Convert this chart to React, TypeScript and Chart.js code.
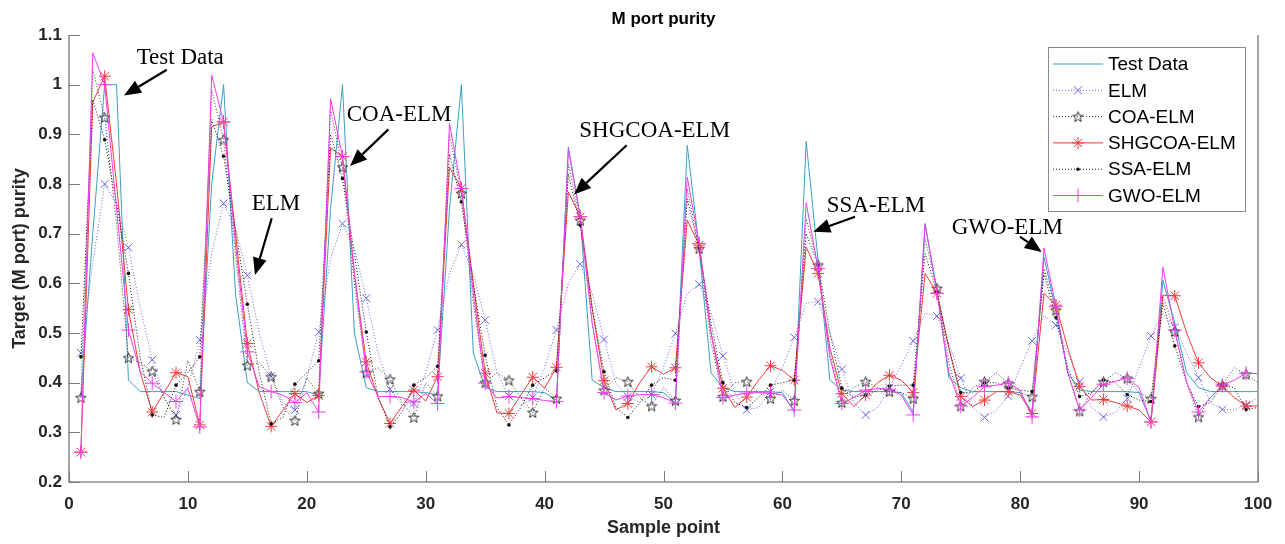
import React, { useEffect, useRef } from 'react';
import { Chart, registerables } from 'chart.js';

Chart.register(...registerables);

// ---------------- data ----------------
const chartTitle = 'M port purity';
const xTicks = [0, 10, 20, 30, 40, 50, 60, 70, 80, 90, 100];
const yTicks = [0.2, 0.3, 0.4, 0.5, 0.6, 0.7, 0.8, 0.9, 1.0, 1.1];

const seriesNames = ['Test Data', 'ELM', 'COA-ELM', 'SHGCOA-ELM', 'SSA-ELM', 'GWO-ELM'];

const testData = [
  0.37, 0.70, 1.00, 1.00, 0.405, 0.382, 0.382, 0.382, 0.382, 0.375,
  0.368, 0.80, 1.00, 0.58, 0.40, 0.382, 0.382, 0.382, 0.382, 0.382,
  0.375, 0.75, 1.00, 0.50, 0.39, 0.382, 0.382, 0.382, 0.382, 0.38,
  0.375, 0.75, 1.00, 0.46, 0.39, 0.382, 0.382, 0.382, 0.382, 0.38,
  0.365, 0.874, 0.734, 0.405, 0.39, 0.382, 0.382, 0.382, 0.382, 0.38,
  0.36, 0.878, 0.67, 0.42, 0.39, 0.382, 0.382, 0.382, 0.382, 0.38,
  0.34, 0.886, 0.647, 0.405, 0.385, 0.382, 0.382, 0.382, 0.382, 0.38,
  0.34, 0.72, 0.586, 0.41, 0.39, 0.382, 0.382, 0.382, 0.382, 0.38,
  0.34, 0.653, 0.546, 0.42, 0.385, 0.382, 0.382, 0.382, 0.382, 0.38,
  0.321, 0.606, 0.52, 0.42, 0.39, 0.382, 0.382, 0.382, 0.382, 0.382,
];

const elm = [
  0.46, 0.64, 0.80, 0.76, 0.672, 0.55, 0.446, 0.37, 0.335, 0.39,
  0.486, 0.66, 0.761, 0.71, 0.616, 0.50, 0.413, 0.36, 0.345, 0.41,
  0.502, 0.65, 0.72, 0.67, 0.57, 0.46, 0.387, 0.355, 0.358, 0.42,
  0.506, 0.62, 0.678, 0.62, 0.526, 0.42, 0.373, 0.355, 0.37, 0.43,
  0.506, 0.60, 0.639, 0.58, 0.487, 0.40, 0.372, 0.36, 0.376, 0.43,
  0.499, 0.58, 0.598, 0.54, 0.454, 0.38, 0.345, 0.35, 0.382, 0.43,
  0.491, 0.56, 0.563, 0.50, 0.427, 0.36, 0.335, 0.35, 0.39, 0.435,
  0.484, 0.54, 0.534, 0.48, 0.409, 0.35, 0.33, 0.345, 0.373, 0.43,
  0.484, 0.535, 0.516, 0.46, 0.402, 0.35, 0.331, 0.34, 0.368, 0.43,
  0.494, 0.54, 0.512, 0.46, 0.41, 0.36, 0.346, 0.345, 0.355, 0.37,
];

const coaElm = [
  0.37, 1.03, 0.934, 0.72, 0.45, 0.44, 0.423, 0.37, 0.326, 0.445,
  0.382, 0.99, 0.889, 0.66, 0.435, 0.44, 0.412, 0.35, 0.324, 0.41,
  0.378, 0.95, 0.834, 0.60, 0.42, 0.43, 0.407, 0.36, 0.33, 0.40,
  0.373, 0.90, 0.781, 0.56, 0.40, 0.42, 0.405, 0.37, 0.34, 0.39,
  0.368, 0.84, 0.727, 0.52, 0.385, 0.41, 0.402, 0.37, 0.353, 0.39,
  0.364, 0.79, 0.67, 0.48, 0.372, 0.40, 0.402, 0.38, 0.368, 0.385,
  0.364, 0.73, 0.637, 0.46, 0.36, 0.39, 0.402, 0.39, 0.382, 0.38,
  0.368, 0.69, 0.59, 0.44, 0.353, 0.39, 0.402, 0.42, 0.399, 0.38,
  0.372, 0.63, 0.546, 0.42, 0.343, 0.38, 0.402, 0.42, 0.409, 0.38,
  0.368, 0.575, 0.503, 0.40, 0.331, 0.37, 0.395, 0.43, 0.417, 0.40,
];

const shgcoaElm = [
  0.26, 0.965, 1.017, 0.80, 0.547, 0.42, 0.341, 0.38, 0.42, 0.412,
  0.315, 0.915, 0.925, 0.70, 0.479, 0.38, 0.312, 0.345, 0.378, 0.36,
  0.374, 0.873, 0.855, 0.62, 0.442, 0.37, 0.318, 0.352, 0.385, 0.363,
  0.412, 0.834, 0.791, 0.60, 0.419, 0.339, 0.338, 0.375, 0.411, 0.389,
  0.431, 0.784, 0.734, 0.55, 0.404, 0.345, 0.358, 0.40, 0.432, 0.417,
  0.43, 0.727, 0.677, 0.50, 0.389, 0.35, 0.371, 0.405, 0.434, 0.425,
  0.405, 0.673, 0.62, 0.47, 0.378, 0.352, 0.375, 0.40, 0.415, 0.405,
  0.38, 0.62, 0.58, 0.47, 0.372, 0.352, 0.365, 0.382, 0.382, 0.375,
  0.338, 0.58, 0.556, 0.47, 0.392, 0.365, 0.366, 0.36, 0.353, 0.345,
  0.321, 0.576, 0.575, 0.50, 0.44, 0.41, 0.393, 0.37, 0.353, 0.353,
];

const ssaElm = [
  0.452, 0.97, 0.889, 0.76, 0.62, 0.45, 0.335, 0.33, 0.395, 0.42,
  0.452, 0.93, 0.856, 0.71, 0.558, 0.42, 0.317, 0.33, 0.397, 0.42,
  0.444, 0.90, 0.811, 0.66, 0.502, 0.37, 0.311, 0.34, 0.395, 0.41,
  0.433, 0.86, 0.764, 0.60, 0.455, 0.35, 0.315, 0.35, 0.395, 0.41,
  0.424, 0.82, 0.717, 0.55, 0.422, 0.35, 0.33, 0.36, 0.395, 0.41,
  0.405, 0.77, 0.67, 0.52, 0.40, 0.36, 0.35, 0.37, 0.395, 0.40,
  0.405, 0.70, 0.637, 0.50, 0.389, 0.37, 0.375, 0.385, 0.393, 0.395,
  0.395, 0.66, 0.583, 0.47, 0.38, 0.38, 0.40, 0.40, 0.389, 0.385,
  0.382, 0.62, 0.531, 0.43, 0.372, 0.38, 0.405, 0.40, 0.376, 0.365,
  0.362, 0.56, 0.474, 0.40, 0.352, 0.36, 0.395, 0.39, 0.346, 0.35,
];

const gwoElm = [
  0.26, 1.064, 1.0, 0.75, 0.506, 0.422, 0.399, 0.38, 0.362, 0.389,
  0.311, 1.019, 0.925, 0.68, 0.462, 0.392, 0.382, 0.375, 0.36, 0.38,
  0.341, 0.972, 0.855, 0.62, 0.422, 0.372, 0.372, 0.37, 0.361, 0.378,
  0.358, 0.922, 0.791, 0.58, 0.399, 0.369, 0.372, 0.37, 0.368, 0.364,
  0.362, 0.87, 0.734, 0.52, 0.38, 0.365, 0.373, 0.376, 0.376, 0.37,
  0.359, 0.814, 0.68, 0.50, 0.37, 0.375, 0.379, 0.38, 0.379, 0.375,
  0.345, 0.762, 0.63, 0.45, 0.358, 0.37, 0.385, 0.388, 0.387, 0.375,
  0.335, 0.72, 0.58, 0.42, 0.353, 0.37, 0.392, 0.395, 0.399, 0.385,
  0.331, 0.671, 0.553, 0.42, 0.345, 0.37, 0.397, 0.403, 0.409, 0.39,
  0.321, 0.633, 0.506, 0.40, 0.341, 0.37, 0.395, 0.405, 0.419, 0.418,
];

// callout labels (text anchor, arrow start, arrow tip) in data units
const calloutLabels = ['Test Data', 'ELM', 'COA-ELM', 'SHGCOA-ELM', 'SSA-ELM', 'GWO-ELM'];
const calloutText = [[5.69, 1.041], [15.37, 0.747], [23.36, 0.926], [42.92, 0.894], [63.73, 0.744], [74.24, 0.700]];
const calloutFrom = [[8.22, 1.03], [17.05, 0.731], [26.86, 0.91], [46.9, 0.878], [66.11, 0.734], [79.98, 0.694]];
const calloutTip = [[4.63, 0.978], [15.64, 0.617], [23.64, 0.836], [42.47, 0.779], [62.6, 0.704], [81.81, 0.663]];

// ---------------- styles ----------------
const colors = ['#3b9fc2', '#6464ec', '#3c3c3c', '#f23a3a', '#111111', '#f03cf0'];

function makeStar(size: number, color: string): HTMLCanvasElement {
  const c = document.createElement('canvas');
  c.width = size;
  c.height = size;
  const g = c.getContext('2d')!;
  const cx = size / 2;
  const cy = size / 2 + 0.5;
  const R = size / 2 - 1;
  const r = R * 0.42;
  g.beginPath();
  for (let i = 0; i < 10; i++) {
    const ang = -Math.PI / 2 + (i * Math.PI) / 5;
    const rr = i % 2 === 0 ? R : r;
    const px = cx + rr * Math.cos(ang);
    const py = cy + rr * Math.sin(ang);
    if (i === 0) g.moveTo(px, py);
    else g.lineTo(px, py);
  }
  g.closePath();
  g.strokeStyle = color;
  g.lineWidth = 1;
  g.stroke();
  return c;
}

function drawMarker(ctx: CanvasRenderingContext2D, kind: string, x: number, y: number, color: string, star?: HTMLCanvasElement) {
  ctx.save();
  ctx.strokeStyle = color;
  ctx.fillStyle = color;
  ctx.lineWidth = 1;
  ctx.setLineDash([]);
  ctx.beginPath();
  if (kind === 'x') {
    const d = 4;
    ctx.moveTo(x - d, y - d); ctx.lineTo(x + d, y + d);
    ctx.moveTo(x - d, y + d); ctx.lineTo(x + d, y - d);
    ctx.stroke();
  } else if (kind === '+') {
    const d = 7;
    ctx.moveTo(x - d, y); ctx.lineTo(x + d, y);
    ctx.moveTo(x, y - d); ctx.lineTo(x, y + d);
    ctx.stroke();
  } else if (kind === '*') {
    const d = 6;
    const e = d * Math.SQRT1_2;
    ctx.moveTo(x - d, y); ctx.lineTo(x + d, y);
    ctx.moveTo(x, y - d); ctx.lineTo(x, y + d);
    ctx.moveTo(x - e, y - e); ctx.lineTo(x + e, y + e);
    ctx.moveTo(x - e, y + e); ctx.lineTo(x + e, y - e);
    ctx.stroke();
  } else if (kind === '.') {
    ctx.arc(x, y, 1.8, 0, Math.PI * 2);
    ctx.fill();
  } else if (kind === 'p' && star) {
    ctx.drawImage(star, x - star.width / 2, y - star.height / 2);
  }
  ctx.restore();
}

export default function App() {
  const ref = useRef<HTMLCanvasElement | null>(null);

  useEffect(() => {
    document.body.style.margin = '0';
    const canvas = ref.current;
    if (!canvas) return;
    Chart.defaults.font.family = '"Liberation Sans", Arial, Helvetica, sans-serif';

    const star = makeStar(13, '#333333');
    const toPts = (arr: number[]) => arr.map((v, i) => ({ x: i + 1, y: v }));
    const every2 = (r: number) => (c: any) => (c.dataIndex % 2 === 0 ? r : 0);

    const markerKinds = ['', 'x', 'p', '*', '.', '+'];
    const dashes = [[], [1, 2], [1, 2], [], [1, 2], []];
    const values = [testData, elm, coaElm, shgcoaElm, ssaElm, gwoElm];
    const pointStyles: any[] = [false, 'crossRot', star, 'star', 'circle', 'cross'];
    const radii = [0, 5.5, 6, 6, 1.8, 7];

    const datasets = values.map((arr, k) => ({
      label: seriesNames[k],
      data: toPts(arr),
      borderColor: colors[k],
      backgroundColor: colors[k],
      borderWidth: 1,
      borderDash: dashes[k],
      pointStyle: pointStyles[k],
      pointRadius: k === 0 ? 0 : every2(radii[k]),
      pointBorderColor: colors[k],
      pointBackgroundColor: colors[k],
      pointBorderWidth: k === 4 ? 0 : 1,
      pointHoverRadius: 0,
      tension: 0,
      fill: false,
      order: 6 - k,
    }));

    const overlay = {
      id: 'overlay',
      afterDraw(chart: any) {
        const { ctx, chartArea: a, scales } = chart;
        const xs = scales.x;
        const ys = scales.y;
        ctx.save();
        // title, centred over the plot area
        ctx.font = 'bold 17px "Liberation Sans", Arial, sans-serif';
        ctx.fillStyle = '#000000';
        ctx.textAlign = 'center';
        ctx.textBaseline = 'middle';
        ctx.fillText(chartTitle, (a.left + a.right) / 2, 19);

        // axes
        ctx.strokeStyle = '#8f8f8f';
        ctx.lineWidth = 1.6;
        ctx.setLineDash([]);
        ctx.beginPath();
        ctx.moveTo(a.left, a.top);
        ctx.lineTo(a.left, a.bottom);
        ctx.lineTo(a.right, a.bottom);
        ctx.lineTo(a.right, a.top);
        ctx.stroke();
        ctx.lineWidth = 1;
        ctx.strokeStyle = '#7a7a7a';
        ctx.beginPath();
        xTicks.forEach((t) => {
          const px = Math.round(xs.getPixelForValue(t)) + 0.5;
          ctx.moveTo(px, a.bottom);
          ctx.lineTo(px, a.bottom - 11);
        });
        yTicks.forEach((t) => {
          const py = Math.round(ys.getPixelForValue(t)) + 0.5;
          ctx.moveTo(a.left, py);
          ctx.lineTo(a.left + 11, py);
        });
        ctx.stroke();

        // legend
        const lx = a.right - 210;
        const ly = a.top + 12;
        const lw = 197;
        const lh = 164;
        ctx.fillStyle = '#ffffff';
        ctx.fillRect(lx, ly, lw, lh);
        ctx.strokeStyle = '#8a8a8a';
        ctx.lineWidth = 1;
        ctx.strokeRect(lx + 0.5, ly + 0.5, lw, lh);
        ctx.font = '19px "Liberation Sans", Arial, sans-serif';
        ctx.textBaseline = 'middle';
        ctx.textAlign = 'left';
        seriesNames.forEach((name, k) => {
          const cy = ly + 17 + k * 26.3;
          ctx.strokeStyle = colors[k];
          ctx.lineWidth = 1;
          ctx.setLineDash(dashes[k]);
          ctx.beginPath();
          ctx.moveTo(lx + 5, cy);
          ctx.lineTo(lx + 55, cy);
          ctx.stroke();
          ctx.setLineDash([]);
          if (markerKinds[k]) drawMarker(ctx, markerKinds[k], lx + 30, cy, colors[k], star);
          ctx.fillStyle = '#000000';
          ctx.fillText(name, lx + 60, cy + 1);
        });

        // callouts
        ctx.font = '23px "Liberation Serif", "Times New Roman", serif';
        ctx.textBaseline = 'alphabetic';
        ctx.fillStyle = '#000000';
        ctx.strokeStyle = '#000000';
        calloutLabels.forEach((label, k) => {
          const tx = xs.getPixelForValue(calloutText[k][0]);
          const ty = ys.getPixelForValue(calloutText[k][1]);
          ctx.fillText(label, tx, ty);
          const fx = xs.getPixelForValue(calloutFrom[k][0]);
          const fy = ys.getPixelForValue(calloutFrom[k][1]);
          const hx = xs.getPixelForValue(calloutTip[k][0]);
          const hy = ys.getPixelForValue(calloutTip[k][1]);
          const ang = Math.atan2(hy - fy, hx - fx);
          const headLen = 17;
          const headW = 7;
          const bx = hx - headLen * Math.cos(ang);
          const by = hy - headLen * Math.sin(ang);
          ctx.lineWidth = 2.2;
          ctx.beginPath();
          ctx.moveTo(fx, fy);
          ctx.lineTo(bx, by);
          ctx.stroke();
          ctx.beginPath();
          ctx.moveTo(hx, hy);
          ctx.lineTo(bx + headW * Math.sin(ang), by - headW * Math.cos(ang));
          ctx.lineTo(bx - headW * Math.sin(ang), by + headW * Math.cos(ang));
          ctx.closePath();
          ctx.fill();
        });
        ctx.restore();
      },
    };

    const fmt = (v: any) => String(Math.round(Number(v) * 10) / 10);

    const chart = new Chart(canvas, {
      type: 'line',
      data: { datasets: datasets as any },
      options: {
        responsive: false,
        animation: false,
        events: [],
        layout: { padding: { left: 0, right: 27, top: 35, bottom: 0 } },
        plugins: {
          legend: { display: false },
          tooltip: { enabled: false },
          title: { display: false },
        },
        scales: {
          x: {
            type: 'linear',
            min: 0,
            max: 100,
            afterBuildTicks: (s: any) => { s.ticks = xTicks.map((v) => ({ value: v })); },
            afterFit: (s: any) => { s.height = 62; },
            grid: { display: false, drawTicks: false },
            border: { display: false },
            ticks: { color: '#262626', font: { size: 17, weight: 'bold' }, padding: 12, maxRotation: 0, callback: fmt },
            title: { display: true, text: 'Sample point', color: '#262626', font: { size: 18, weight: 'bold' }, padding: { top: 0, bottom: 5 } },
          },
          y: {
            type: 'linear',
            min: 0.2,
            max: 1.1,
            afterBuildTicks: (s: any) => { s.ticks = yTicks.map((v) => ({ value: v })); },
            afterFit: (s: any) => { s.width = 69; },
            grid: { display: false, drawTicks: false },
            border: { display: false },
            ticks: { color: '#262626', font: { size: 17, weight: 'bold' }, padding: 7, callback: fmt },
            title: { display: true, text: 'Target (M port) purity', color: '#262626', font: { size: 18, weight: 'bold' }, padding: { top: 9, bottom: 0 } },
          },
        },
      },
      plugins: [overlay],
    });

    return () => chart.destroy();
  }, []);

  return (
    <div style={{ width: 1285, height: 544 }}>
      <canvas ref={ref} width={1285} height={544} style={{ display: 'block' }} />
    </div>
  );
}
